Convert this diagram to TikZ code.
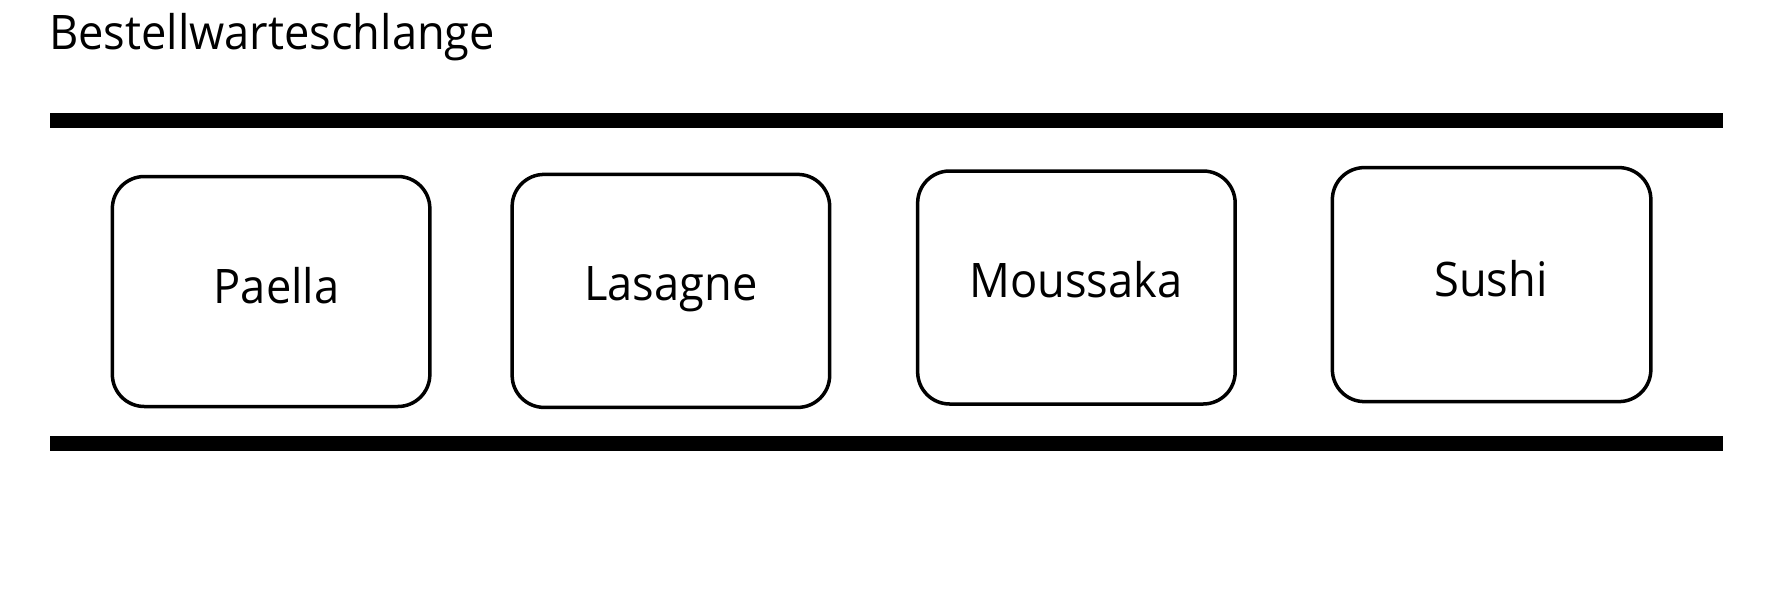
\documentclass[tikz,border=0pt]{standalone}
\usepackage{fontspec}
\setmainfont[FakeStretch=0.95]{Open Sans}
\begin{document}
\begin{tikzpicture}[x=1pt,y=-1pt,
  lbl/.style={font=\fontsize{47.6}{57}\selectfont, inner sep=0pt, anchor=base},
  dish/.style={draw=black, line width=3.5pt, rounded corners=32pt, inner sep=0pt, minimum width=317.5pt},
  rail/.style={line width=15pt, line cap=butt}]
\useasboundingbox (0,0) rectangle (1771,592);
\fill[white] (0,0) rectangle (1771,592);
% title
\node[lbl, anchor=base west] (title) at (49,49.3) {Bestellwarteschlange};
% rails
\coordinate (t1) at (50,120.8);
\coordinate (t2) at (1722.5,120.8);
\coordinate (b1) at (50,443.3);
\coordinate (b2) at (1722.5,443.3);
\draw[rail] (t1) -- (t2);
\draw[rail] (b1) -- (b2);
% boxes
\node[dish, minimum height=230pt] (p) at (271.1,291.5) {};
\node[dish, minimum height=233pt] (l) at (670.9,290.9) {};
\node[dish, minimum height=233pt] (m) at (1076.4,287.5) {};
\node[dish, minimum height=234pt, minimum width=318.5pt] (s) at (1491.6,284.6) {};
% labels
\node[lbl] (pl) at (276.6,303) {Paella};
\node[lbl] (ll) at (670.8,300) {Lasagne};
\node[lbl] (ml) at (1076,297) {Moussaka};
\node[lbl] (sl) at (1491,296) {Sushi};
\end{tikzpicture}
\end{document}
